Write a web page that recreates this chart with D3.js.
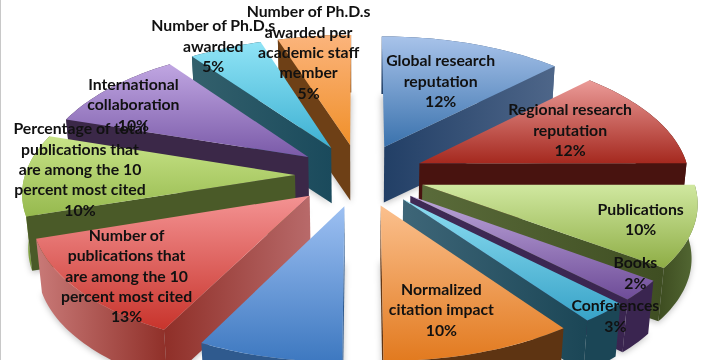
<!DOCTYPE html>
<html>
<head>
<meta charset="utf-8">
<script src="https://cdn.jsdelivr.net/npm/d3@7"></script>
<style>
html, body { margin: 0; padding: 0; background: #fff; overflow: hidden; }
svg { display: block; }
text { font-family: Lato, "Open Sans", sans-serif; font-weight: 700; font-size: 15.8px; fill: #111; }
</style>
</head>
<body>
<div id="chart"></div>
<script>
// chart values (blue slice has its label cropped away)
var categories = [
    ["Global research", "reputation"],
    ["Regional research", "reputation"],
    ["Publications"],
    ["Books"],
    ["Conferences"],
    ["Normalized", "citation impact"],
    [],
    ["Number of", "publications that", "are among the 10", "percent most cited"],
    ["Percentage of total", "publications that", "are among the 10", "percent most cited"],
    ["International", "collaboration"],
    ["Number of Ph.D.s", "awarded"],
    ["Number of Ph.D.s", "awarded per", "academic staff", "member"]
];
var values = [12.5, 12.5, 10, 2.5, 2.5, 10, 7.5, 12.5, 10, 10, 5, 5];
var percentLabels = ["12%", "12%", "10%", "2%", "3%", "10%", "", "13%", "10%", "10%", "5%", "5%"];

// colours per slice: top light/dark, radial wall left/right, outer wall left/right
var topColors = [
    ["#a8c3ea", "#3a72ad"], ["#eb9b98", "#a5291f"], ["#d0e8a0", "#8ead45"], ["#bda6da", "#6e4c98"],
    ["#8edef2", "#38a3c8"], ["#fbc08e", "#e27a1f"], ["#9dc0f2", "#3d78c0"], ["#f49393", "#c8342c"],
    ["#c8e488", "#96b94e"], ["#c0a6e2", "#7a5aa8"], ["#90e4f6", "#3db0d2"], ["#fbb47c", "#f0902a"]
];
var edgeColors = [
    ["#223f66", "#4e6689"], ["#48130f", "#48130f"], ["#5a6b3a", "#3f4e22"], ["#3f2a55", "#3a2550"],
    ["#3e6678", "#1b4656"], ["#6b3a15", "#5e3412"], ["#2f5a8e", "#2f5a8e"], ["#8f2f28", "#b86a6a"],
    ["#4a5a28", "#4a5a28"], ["#3b2848", "#3b2848"], ["#33606c", "#1a4a5c"], ["#6e4016", "#6e4016"]
];
var arcColors = [
    ["#223f66", "#4e6689"], ["#48130f", "#48130f"], ["#3d4c20", "#556a35"], ["#3a2550", "#3a2550"],
    ["#1b4656", "#1b4656"], ["#5e3412", "#5e3412"], ["#2f5a8e", "#2f5a8e"], ["#c97a78", "#8f2f28"],
    ["#8fb54a", "#4a5a28"], ["#3b2848", "#3b2848"], ["#1a4a5c", "#1a4a5c"], ["#6e4016", "#6e4016"]
];
// label shift from the slice's anchor point, these were placed by hand in the original
var labelNudge = [
    [1, -1], [8, -4], [58, 10], [91, 23], [96, 52], [4, 21],
    [0, 0], [-49, 26], [-53, -5], [-53, -9], [-52, -39], [-19, -24]
];

var width = 720, height = 360;
var cx = 360, cy = 175;
var radius = 270, explode = 65;
var tilt = 0.48, persp = 0.000434;
var depth = 55, shrink = 0.018;

var svg = d3.select("#chart")
    .append("svg")
    .attr("width", width)
    .attr("height", height);

var defs = svg.append("defs");
defs.append("filter")
    .attr("id", "blur")
    .attr("x", "-20%").attr("y", "-20%")
    .attr("width", "140%").attr("height", "140%")
    .append("feGaussianBlur")
    .attr("stdDeviation", 3);

function addGradient(id, colors, vertical) {
    var g = defs.append("linearGradient")
        .attr("id", id)
        .attr("x1", 0).attr("y1", 0)
        .attr("x2", vertical ? 0 : 1)
        .attr("y2", vertical ? 1 : 0);
    g.append("stop").attr("offset", "0%").attr("stop-color", colors[0]);
    g.append("stop").attr("offset", "100%").attr("stop-color", colors[1]);
}

// ground plane -> screen, y goes towards the viewer, z=1 is the bottom of the slab
function project(x, y, z) {
    var w = (1 / (1 - persp * y)) * (1 - shrink * z);
    return [cx + x * w, cy + tilt * y * w + depth * z];
}

var line = d3.line();

var pie = d3.pie().sort(null).value(d => d);
var slices = pie(values).map(function(d, i) {
    var mid = (d.startAngle + d.endAngle) / 2;
    return {
        i: i,
        a0: d.startAngle,
        a1: d.endAngle,
        mid: mid,
        ox: explode * Math.sin(mid),
        oy: -explode * Math.cos(mid)
    };
});

function rimPoint(s, a) {
    return [s.ox + radius * Math.sin(a), s.oy - radius * Math.cos(a)];
}

function rim(s) {
    var n = Math.ceil((s.a1 - s.a0) * 40);
    return d3.range(n + 1).map(t => rimPoint(s, s.a0 + (s.a1 - s.a0) * t / n));
}

function face(s, z) {
    var pts = [[s.ox, s.oy]].concat(rim(s));
    return line(pts.map(p => project(p[0], p[1], z))) + "Z";
}

function wall(pts) {
    var up = pts.map(p => project(p[0], p[1], 0));
    var down = pts.map(p => project(p[0], p[1], 1)).reverse();
    return line(up.concat(down)) + "Z";
}

slices.forEach(function(s) {
    addGradient("top" + s.i, topColors[s.i], true);
    addGradient("edge" + s.i, edgeColors[s.i], false);
    addGradient("arc" + s.i, arcColors[s.i], false);
});

// soft shadow under the slabs
svg.append("g")
    .attr("filter", "url(#blur)")
    .selectAll("path")
    .data(slices)
    .join("path")
    .attr("d", s => face(s, 1.03))
    .attr("fill", "#000")
    .attr("opacity", 0.25);

// painter's order, back slices first
var ordered = slices.slice().sort((a, b) => -Math.cos(a.mid) - -Math.cos(b.mid));

var groups = svg.selectAll("g.slice")
    .data(ordered)
    .join("g")
    .attr("class", "slice");

groups.append("path")
    .attr("d", s => wall(rim(s)))
    .attr("fill", s => "url(#arc" + s.i + ")");

groups.append("path")
    .attr("d", function(s) {
        // right half shows the end wall, left half the start wall
        var a = s.mid < Math.PI ? s.a1 : s.a0;
        return wall([[s.ox, s.oy], rimPoint(s, a)]);
    })
    .attr("fill", s => "url(#edge" + s.i + ")");

groups.append("path")
    .attr("d", s => face(s, 0))
    .attr("fill", s => "url(#top" + s.i + ")");

// labels
var labelGroups = svg.selectAll("text.label")
    .data(slices)
    .join("text")
    .attr("class", "label")
    .attr("text-anchor", "middle");

var lineHeight = 20.4;
labelGroups.each(function(s) {
    var lines = categories[s.i].concat(percentLabels[s.i] ? [percentLabels[s.i]] : []);
    var r = explode + radius * 0.6;
    var p = project(r * Math.sin(s.mid), -r * Math.cos(s.mid), 0);
    var x = p[0] + labelNudge[s.i][0];
    var y = p[1] + labelNudge[s.i][1];
    var first = y - (lines.length - 1) * lineHeight / 2 + 5;
    d3.select(this).selectAll("tspan")
        .data(lines)
        .join("tspan")
        .attr("x", x)
        .attr("y", (d, j) => first + j * lineHeight)
        .text(d => d);
});

// thin frame line on the left edge of the slide
svg.append("line")
    .attr("x1", 0.5).attr("x2", 0.5)
    .attr("y1", 0).attr("y2", height)
    .attr("stroke", "#c8c8c8");
</script>
</body>
</html>
